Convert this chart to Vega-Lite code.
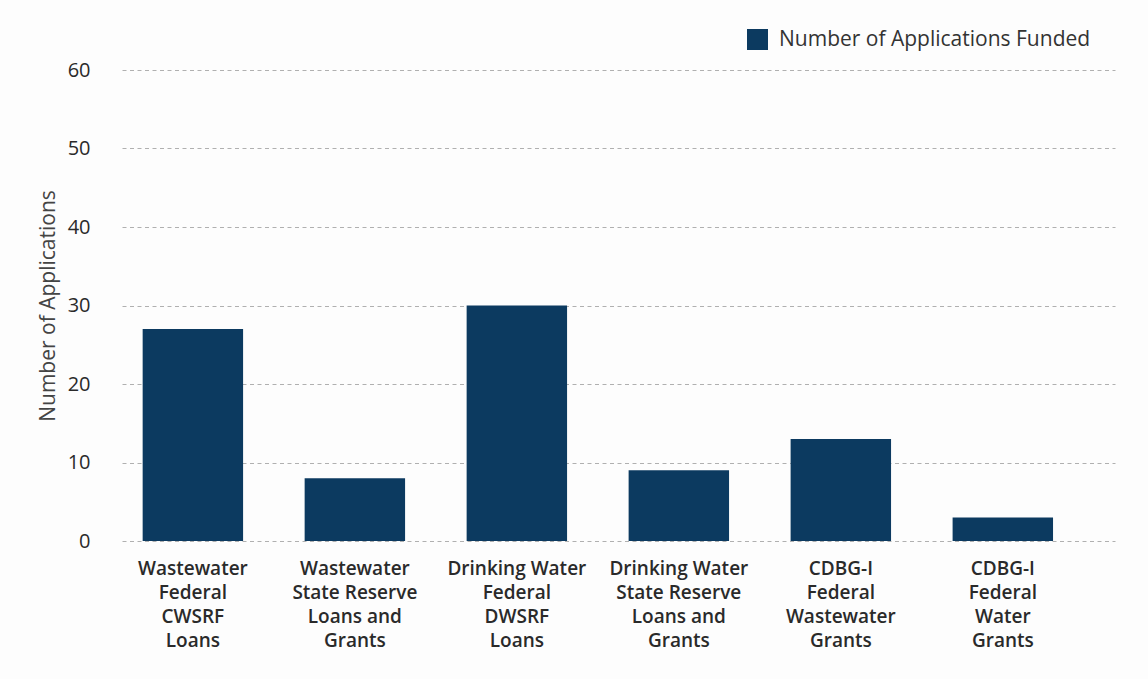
{
  "$schema": "https://vega.github.io/schema/vega-lite/v6.json",
  "width": 993,
  "height": 471,
  "autosize": {"type": "none"},
  "padding": {"left": 122, "top": 70, "right": 33, "bottom": 138},
  "background": "#fdfdfd",
  "config": {
    "view": {"stroke": null},
    "font": "Open Sans"
  },
  "data": {
    "values": [
      {"program": "Wastewater|Federal|CWSRF|Loans", "applications": 27},
      {"program": "Wastewater|State Reserve|Loans and|Grants", "applications": 8},
      {"program": "Drinking Water|Federal|DWSRF|Loans", "applications": 30},
      {"program": "Drinking Water|State Reserve|Loans and|Grants", "applications": 9},
      {"program": "CDBG-I|Federal|Wastewater|Grants", "applications": 13},
      {"program": "CDBG-I|Federal|Water|Grants", "applications": 3}
    ]
  },
  "mark": {"type": "bar"},
  "encoding": {
    "x": {
      "field": "program",
      "type": "nominal",
      "sort": null,
      "scale": {"paddingInner": 0.38, "paddingOuter": 0.255, "align": 0.25},
      "axis": {
        "title": null,
        "domain": false,
        "ticks": false,
        "labelAngle": 0,
        "labelExpr": "split(datum.label, '|')",
        "labelFontSize": 19,
        "labelFontWeight": 600,
        "labelColor": "#2a2a2a",
        "labelLineHeight": 24,
        "labelBaseline": "top",
        "labelPadding": 18,
        "labelLimit": 0
      }
    },
    "y": {
      "field": "applications",
      "type": "quantitative",
      "scale": {"domain": [0, 60], "nice": false},
      "axis": {
        "values": [0, 10, 20, 30, 40, 50, 60],
        "domain": false,
        "ticks": false,
        "grid": true,
        "gridColor": "#b0b0b0",
        "gridDash": [4, 3.5],
        "gridWidth": 1,
        "labelFontSize": 20,
        "labelFontWeight": 500,
        "labelColor": "#2a2a2a",
        "labelPadding": 32,
        "title": "Number of Applications",
        "titleFontSize": 21,
        "titleFontWeight": "normal",
        "titleColor": "#444444",
        "titlePadding": 9
      }
    },
    "color": {
      "datum": "Number of Applications Funded",
      "type": "nominal",
      "scale": {"range": ["#0c3a60"]},
      "legend": {
        "title": null,
        "orient": "none",
        "legendX": 625,
        "legendY": -41,
        "padding": 0,
        "symbolType": "square",
        "symbolSize": 441,
        "symbolStrokeWidth": 0,
        "symbolOpacity": 1,
        "labelFontSize": 21,
        "labelColor": "#333333",
        "labelOffset": 11,
        "labelLimit": 0
      }
    }
  }
}
